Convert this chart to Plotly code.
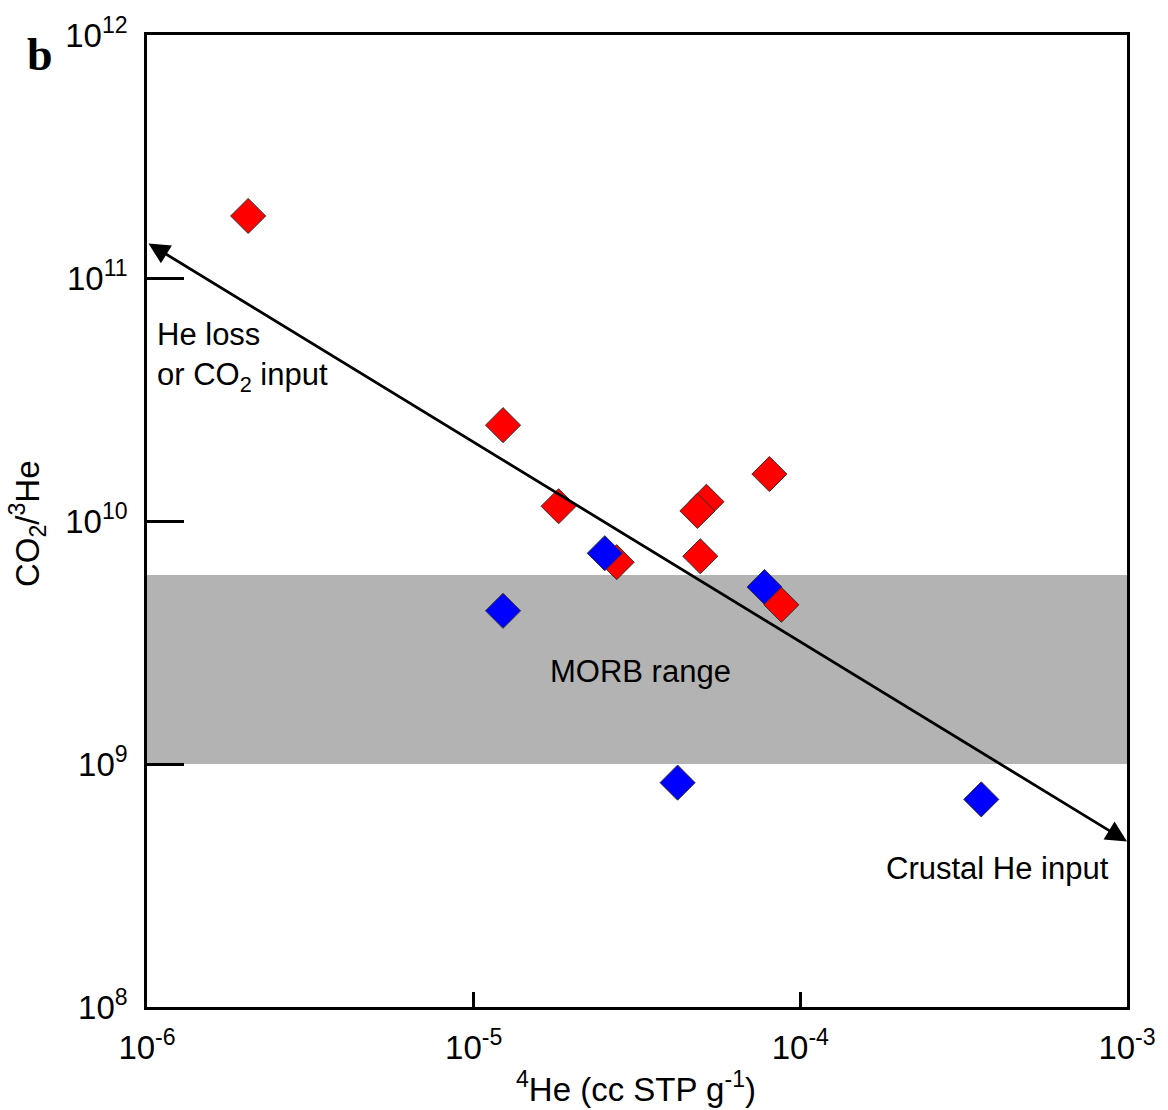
import math
import plotly.graph_objects as go

# 4He concentration (cc STP/g) and CO2/3He ratio per sample, in drawing order
he4 = [2.04e-6, 1.23e-5, 1.82e-5, 2.74e-5, 2.52e-5, 1.23e-5, 5.16e-5, 4.84e-5,
       4.94e-5, 8.04e-5, 4.21e-5, 7.77e-5, 8.75e-5, 3.58e-4]
co2_he3 = [1.80e11, 2.48e10, 1.15e10, 6.77e9, 7.37e9, 4.27e9, 1.20e10, 1.10e10,
           7.16e9, 1.56e10, 8.38e8, 5.35e9, 4.52e9, 7.15e8]
group = ["red", "red", "red", "red", "blue", "blue", "red", "red",
         "red", "red", "blue", "blue", "red", "blue"]

group_colors = {"red": "#ff0000", "blue": "#0000ff"}

# MORB CO2/3He range
morb_low, morb_high = 1e9, 6e9

# Trend arrow end points (x, y)
arrow_start = (1e-6, 1.40e11)
arrow_end = (1e-3, 4.8e8)

x_ticks = [1e-6, 1e-5, 1e-4, 1e-3]
x_ticktext = ["10<sup>-6</sup>", "10<sup>-5</sup>", "10<sup>-4</sup>", "10<sup>-3</sup>"]
y_ticks = [1e8, 1e9, 1e10, 1e11, 1e12]
y_ticktext = ["10<sup>8</sup>", "10<sup>9</sup>", "10<sup>10</sup>", "10<sup>11</sup>", "10<sup>12</sup>"]

FONT = "Arial, Liberation Sans, sans-serif"

fig = go.Figure()

fig.add_trace(go.Scatter(
    x=he4, y=co2_he3, mode="markers",
    marker=dict(symbol="diamond", size=27,
                color=[group_colors[g] for g in group],
                line=dict(color="#333333", width=1)),
    showlegend=False, hoverinfo="x+y",
))

fig.add_shape(type="rect", xref="paper", yref="y", x0=0, x1=1,
              y0=morb_low, y1=morb_high, fillcolor="#b3b3b3",
              line=dict(width=0), layer="below")

fig.add_annotation(
    x=math.log10(arrow_end[0]), y=math.log10(arrow_end[1]),
    ax=math.log10(arrow_start[0]), ay=math.log10(arrow_start[1]),
    xref="x", yref="y", axref="x", ayref="y",
    showarrow=True, arrowhead=2, startarrowhead=2, arrowside="end+start",
    arrowwidth=2.8, arrowsize=1.5, startarrowsize=1.5, arrowcolor="black", text="",
)


def label(text, x, y, size, **kw):
    opts = dict(xanchor="center", yanchor="middle",
                font=dict(family=FONT, size=size, color="black"))
    opts.update(kw)
    fig.add_annotation(x=x, y=y, xref="paper", yref="paper", text=text,
                       showarrow=False, **opts)


label("He loss<br>or CO<sub>2</sub> input", 0.008, 0.669, 31,
      xanchor="left", align="left")
label("MORB range", 0.5036, 0.345, 31)
label("Crustal He input", 0.8675, 0.142, 31)
label("<b>b</b>", -0.109, 0.98, 46,
      font=dict(family="Liberation Serif, Times New Roman, serif", size=46, color="black"))
label("CO<sub>2</sub>/<sup>3</sup>He", -0.1213, 0.497, 33, textangle=-90)
label("<sup>4</sup>He (cc STP g<sup>-1</sup>)", 0.4985, -0.0827, 33)

fig.update_xaxes(type="log", range=[-6, -3], tickvals=x_ticks, ticktext=x_ticktext,
                 ticks="inside", ticklen=15, tickwidth=2.5, tickcolor="black",
                 showline=True, linewidth=2.5, linecolor="black", mirror=True,
                 showgrid=False, zeroline=False, ticklabelstandoff=10,
                 tickfont=dict(family=FONT, size=33, color="black"))
fig.update_yaxes(type="log", range=[8, 12], tickvals=y_ticks, ticktext=y_ticktext,
                 ticks="inside", ticklen=37, tickwidth=2.5, tickcolor="black",
                 showline=True, linewidth=2.5, linecolor="black", mirror=True,
                 showgrid=False, zeroline=False, ticklabelstandoff=10,
                 tickfont=dict(family=FONT, size=33, color="black"))

fig.update_layout(width=1168, height=1110, autosize=False,
                  margin=dict(l=147, r=40, t=28, b=103),
                  plot_bgcolor="white", paper_bgcolor="white")

fig.write_html("out.html")
